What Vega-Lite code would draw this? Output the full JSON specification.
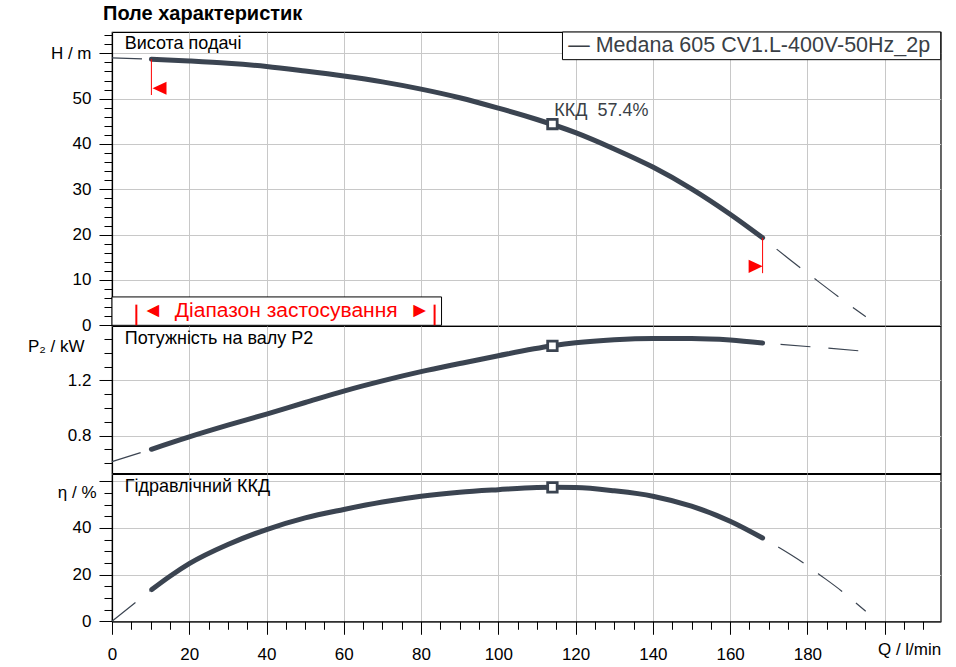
{
  "$schema": "https://vega.github.io/schema/vega-lite/v6.json",
  "padding": {"left": 22, "top": 3, "right": 5, "bottom": 5},
  "spacing": 0,
  "bounds": "flush",
  "title": {"text": "Поле характеристик", "anchor": "start", "fontSize": 20, "fontWeight": "bold", "font": "Liberation Sans", "color": "black", "offset": 2, "dx": 81},
  "datasets": {
    "H": [
      {"Q": 0, "v": 59.0, "seg": "a"}, {"Q": 10.2, "v": 58.7, "seg": "a"},
      {"Q": 10.2, "v": 58.7, "seg": "s"}, {"Q": 20, "v": 58.3, "seg": "s"}, {"Q": 30, "v": 57.8, "seg": "s"},
      {"Q": 40, "v": 57.1, "seg": "s"}, {"Q": 50, "v": 56.1, "seg": "s"}, {"Q": 60, "v": 55.0, "seg": "s"},
      {"Q": 70, "v": 53.7, "seg": "s"}, {"Q": 80, "v": 52.1, "seg": "s"}, {"Q": 90, "v": 50.2, "seg": "s"},
      {"Q": 100, "v": 47.9, "seg": "s"}, {"Q": 110, "v": 45.4, "seg": "s"}, {"Q": 120, "v": 42.5, "seg": "s"},
      {"Q": 130, "v": 38.9, "seg": "s"}, {"Q": 140, "v": 34.9, "seg": "s"}, {"Q": 150, "v": 30.1, "seg": "s"},
      {"Q": 160, "v": 24.5, "seg": "s"}, {"Q": 168.4, "v": 19.3, "seg": "s"},
      {"Q": 168.4, "v": 19.3, "seg": "b"}, {"Q": 175, "v": 14.8, "seg": "b"}, {"Q": 182, "v": 10.2, "seg": "b"},
      {"Q": 188.5, "v": 6.0, "seg": "b"}, {"Q": 195.1, "v": 1.9, "seg": "b"},
      {"Q": 114, "v": 44.4, "seg": "p"}
    ],
    "P": [
      {"Q": 0, "v": 0.61, "seg": "a"}, {"Q": 10.2, "v": 0.70, "seg": "a"},
      {"Q": 10.2, "v": 0.70, "seg": "s"}, {"Q": 20, "v": 0.79, "seg": "s"}, {"Q": 30, "v": 0.875, "seg": "s"},
      {"Q": 40, "v": 0.956, "seg": "s"}, {"Q": 50, "v": 1.04, "seg": "s"}, {"Q": 60, "v": 1.123, "seg": "s"},
      {"Q": 70, "v": 1.197, "seg": "s"}, {"Q": 80, "v": 1.264, "seg": "s"}, {"Q": 90, "v": 1.323, "seg": "s"},
      {"Q": 100, "v": 1.38, "seg": "s"}, {"Q": 114, "v": 1.452, "seg": "s"}, {"Q": 120, "v": 1.474, "seg": "s"},
      {"Q": 130, "v": 1.496, "seg": "s"}, {"Q": 140, "v": 1.505, "seg": "s"}, {"Q": 150, "v": 1.505, "seg": "s"},
      {"Q": 160, "v": 1.494, "seg": "s"}, {"Q": 168.4, "v": 1.472, "seg": "s"},
      {"Q": 168.4, "v": 1.472, "seg": "b"}, {"Q": 180.9, "v": 1.445, "seg": "b"}, {"Q": 193.2, "v": 1.416, "seg": "b"},
      {"Q": 114, "v": 1.452, "seg": "p"}
    ],
    "E": [
      {"Q": 0, "v": 0, "seg": "a"}, {"Q": 10.3, "v": 13.6, "seg": "a"},
      {"Q": 10.3, "v": 13.6, "seg": "s"}, {"Q": 15, "v": 19.3, "seg": "s"}, {"Q": 20, "v": 24.7, "seg": "s"},
      {"Q": 30, "v": 32.9, "seg": "s"}, {"Q": 40, "v": 39.3, "seg": "s"}, {"Q": 50, "v": 44.3, "seg": "s"},
      {"Q": 60, "v": 47.9, "seg": "s"}, {"Q": 70, "v": 51.1, "seg": "s"}, {"Q": 80, "v": 53.6, "seg": "s"},
      {"Q": 90, "v": 55.3, "seg": "s"}, {"Q": 100, "v": 56.4, "seg": "s"}, {"Q": 110, "v": 57.3, "seg": "s"},
      {"Q": 114, "v": 57.4, "seg": "s"}, {"Q": 120, "v": 57.3, "seg": "s"}, {"Q": 130, "v": 55.9, "seg": "s"},
      {"Q": 140, "v": 53.6, "seg": "s"}, {"Q": 150, "v": 49.3, "seg": "s"}, {"Q": 160, "v": 42.9, "seg": "s"},
      {"Q": 168.4, "v": 35.7, "seg": "s"},
      {"Q": 168.4, "v": 35.7, "seg": "b"}, {"Q": 172.4, "v": 31.9, "seg": "b"}, {"Q": 179, "v": 25.0, "seg": "b"},
      {"Q": 182.8, "v": 20.4, "seg": "b"}, {"Q": 188.9, "v": 12.9, "seg": "b"}, {"Q": 192.5, "v": 7.9, "seg": "b"},
      {"Q": 195.1, "v": 4.3, "seg": "b"},
      {"Q": 114, "v": 57.4, "seg": "p"}
    ],
    "boxes": [
      {"Q": 0, "Q2": 85.3, "v": 0, "v2": 6.26},
      {"Q": 116.6, "Q2": 214.5, "v": 58.6, "v2": 64.7}
    ],
    "redRules": [
      {"Q": 10.2, "v": 58.7, "v2": 50.8},
      {"Q": 168.4, "v": 19.3, "v2": 11.5}
    ],
    "redBars": [
      {"Q": 6.3, "v": 0, "v2": 4.56},
      {"Q": 83.5, "v": 0, "v2": 4.56}
    ],
    "triangles": [
      {"Q": 12.3, "v": 52.3, "dir": "l"},
      {"Q": 166.6, "v": 13.0, "dir": "r"}
    ],
    "labelsTop": [{"Q": 3.3, "v": 62.1, "t": "Висота подачі"}],
    "labelsMid": [{"Q": 3.3, "v": 1.503, "t": "Потужність на валу P2"}],
    "labelsBot": [{"Q": 3.3, "v": 57.4, "t": "Гідравлічний ККД"}],
    "bepText": [{"Q": 114.5, "v": 47.3, "t": "ККД\u00a0\u00a057.4%"}],
    "rangeText": [{"Q": 45.1, "v": 3.24, "t": "◄\u00a0\u00a0Діапазон\u00a0застосування\u00a0\u00a0►"}],
    "legendText": [{"Q": 118.1, "v": 61.6, "t": "— Medana 605 CV1.L-400V-50Hz_2p"}]
  },
  "vconcat": [
    {
      "width": 828.7,
      "height": 293.3,
      "encoding": {
        "x": {"field": "Q", "type": "quantitative", "scale": {"domain": [0, 214.5], "nice": false, "zero": false},
          "axis": {"title": null, "values": [0, 20, 40, 60, 80, 100, 120, 140, 160, 180, 200], "labels": false, "ticks": false, "domain": false, "grid": true}},
        "y": {"field": "v", "type": "quantitative", "scale": {"domain": [0, 64.7], "nice": false, "zero": false},
          "axis": {
            "title": null,
            "values": [0, 2, 4, 6, 8, 10, 12, 14, 16, 18, 20, 22, 24, 26, 28, 30, 32, 34, 36, 38, 40, 42, 44, 46, 48, 50, 52, 54, 56, 58, 60, 62, 64],
            "labelExpr": "datum.value == 60 ? 'H /  m' : (datum.value % 10 === 0 ? datum.label : '')",
            "tickSize": {"condition": {"test": "datum.value % 10 === 0", "value": 13}, "value": 8},
            "gridOpacity": {"condition": {"test": "datum.value % 10 === 0", "value": 1}, "value": 0}
          }}
      },
      "layer": [
        {"data": {"name": "boxes"}, "mark": {"type": "rect", "fill": "white", "stroke": "black", "strokeWidth": 1}, "encoding": {"x2": {"field": "Q2"}, "y2": {"field": "v2"}}},
        {"data": {"name": "H"}, "transform": [{"filter": "datum.seg == 'a'"}], "mark": {"type": "line", "color": "#3b4451", "strokeWidth": 1.2, "strokeDash": [30, 18]}},
        {"data": {"name": "H"}, "transform": [{"filter": "datum.seg == 'b'"}], "mark": {"type": "line", "color": "#3b4451", "strokeWidth": 1.2, "strokeDash": [30, 18], "strokeDashOffset": 30, "interpolate": "monotone"}},
        {"data": {"name": "H"}, "transform": [{"filter": "datum.seg == 's'"}], "mark": {"type": "line", "color": "#3b4451", "strokeWidth": 5, "strokeCap": "round", "interpolate": "monotone"}},
        {"data": {"name": "H"}, "transform": [{"filter": "datum.seg == 'p'"}], "mark": {"type": "point", "shape": "square", "size": 90, "filled": true, "fill": "white", "stroke": "#3b4451", "strokeWidth": 2.8, "opacity": 1}},
        {"data": {"name": "redRules"}, "mark": {"type": "rule", "color": "red", "strokeWidth": 1}, "encoding": {"y2": {"field": "v2"}}},
        {"data": {"name": "redBars"}, "mark": {"type": "rule", "color": "red", "strokeWidth": 2}, "encoding": {"y2": {"field": "v2"}}},
        {"data": {"name": "triangles"}, "mark": {"type": "point", "filled": true, "color": "red", "size": 196, "opacity": 1},
          "encoding": {"shape": {"field": "dir", "type": "nominal", "scale": {"domain": ["l", "r"], "range": ["M-1,0L1,-0.93L1,0.93Z", "M1,0L-1,-0.93L-1,0.93Z"]}, "legend": null}}},
        {"data": {"name": "labelsTop"}, "mark": {"type": "text", "align": "left", "baseline": "middle", "fontSize": 18, "color": "black"}, "encoding": {"text": {"field": "t"}}},
        {"data": {"name": "bepText"}, "mark": {"type": "text", "align": "left", "baseline": "middle", "fontSize": 18, "color": "#3a3f46"}, "encoding": {"text": {"field": "t"}}},
        {"data": {"name": "rangeText"}, "mark": {"type": "text", "align": "center", "baseline": "middle", "fontSize": 21, "color": "red"}, "encoding": {"text": {"field": "t"}}},
        {"data": {"name": "legendText"}, "mark": {"type": "text", "align": "left", "baseline": "middle", "fontSize": 21.5, "color": "#3a3f46"}, "encoding": {"text": {"field": "t"}}}
      ]
    },
    {
      "width": 828.7,
      "height": 147.2,
      "encoding": {
        "x": {"field": "Q", "type": "quantitative", "scale": {"domain": [0, 214.5], "nice": false, "zero": false},
          "axis": {"title": null, "values": [0, 20, 40, 60, 80, 100, 120, 140, 160, 180, 200], "labels": false, "ticks": false, "domain": false, "grid": true}},
        "y": {"field": "v", "type": "quantitative", "scale": {"domain": [0.526, 1.596], "nice": false, "zero": false},
          "axis": {
            "title": null,
            "values": [0.6, 0.7, 0.8, 0.9, 1.0, 1.1, 1.2, 1.3, 1.4, 1.5, 1.45],
            "labelExpr": "abs(datum.value - 1.45) < 0.01 ? 'P₂ /  kW' : ((abs(datum.value - 0.8) < 0.01 || abs(datum.value - 1.2) < 0.01) ? datum.label : '')",
            "tickSize": {"condition": {"test": "abs(datum.value - 0.8) < 0.01 || abs(datum.value - 1.2) < 0.01", "value": 13}, "value": 8},
            "tickOpacity": {"condition": {"test": "abs(datum.value - 1.45) < 0.01", "value": 0}, "value": 1},
            "labelPadding": {"condition": {"test": "abs(datum.value - 1.45) < 0.01", "value": 20}, "value": 8},
            "gridOpacity": {"condition": {"test": "abs(datum.value - 0.8) < 0.01 || abs(datum.value - 1.2) < 0.01", "value": 1}, "value": 0}
          }}
      },
      "layer": [
        {"data": {"name": "P"}, "transform": [{"filter": "datum.seg == 'a'"}], "mark": {"type": "line", "color": "#3b4451", "strokeWidth": 1.2, "strokeDash": [30, 18]}},
        {"data": {"name": "P"}, "transform": [{"filter": "datum.seg == 'b'"}], "mark": {"type": "line", "color": "#3b4451", "strokeWidth": 1.2, "strokeDash": [30, 18], "strokeDashOffset": 30, "interpolate": "monotone"}},
        {"data": {"name": "P"}, "transform": [{"filter": "datum.seg == 's'"}], "mark": {"type": "line", "color": "#3b4451", "strokeWidth": 5, "strokeCap": "round", "interpolate": "monotone"}},
        {"data": {"name": "P"}, "transform": [{"filter": "datum.seg == 'p'"}], "mark": {"type": "point", "shape": "square", "size": 90, "filled": true, "fill": "white", "stroke": "#3b4451", "strokeWidth": 2.8, "opacity": 1}},
        {"data": {"name": "labelsMid"}, "mark": {"type": "text", "align": "left", "baseline": "middle", "fontSize": 18, "color": "black"}, "encoding": {"text": {"field": "t"}}}
      ]
    },
    {
      "width": 828.7,
      "height": 147.3,
      "encoding": {
        "x": {"field": "Q", "type": "quantitative", "scale": {"domain": [0, 214.5], "nice": false, "zero": false},
          "axis": {
            "title": null,
            "values": [0, 5, 10, 15, 20, 25, 30, 35, 40, 45, 50, 55, 60, 65, 70, 75, 80, 85, 90, 95, 100, 105, 110, 115, 120, 125, 130, 135, 140, 145, 150, 155, 160, 165, 170, 175, 180, 185, 190, 195, 200, 205, 210, 214.5],
            "labelExpr": "datum.value > 214 ? 'Q / l/min' : ((datum.value % 20 === 0 && datum.value < 190) ? datum.label : '')",
            "labelAlign": {"condition": {"test": "datum.value > 214", "value": "right"}, "value": "center"},
            "tickSize": {"condition": {"test": "datum.value % 20 === 0", "value": 13}, "value": 8},
            "tickOpacity": {"condition": {"test": "datum.value > 214", "value": 0}, "value": 1},
            "gridOpacity": {"condition": {"test": "datum.value % 20 === 0", "value": 1}, "value": 0},
            "labelPadding": 12
          }},
        "y": {"field": "v", "type": "quantitative", "scale": {"domain": [0, 63.1], "nice": false, "zero": false},
          "axis": {
            "title": null,
            "values": [0, 5, 10, 15, 20, 25, 30, 35, 40, 45, 50, 55, 60],
            "labelExpr": "datum.value == 55 ? 'η /  %' : ((datum.value % 20 === 0 && datum.value < 60) ? datum.label : '')",
            "tickSize": {"condition": {"test": "datum.value % 20 === 0", "value": 13}, "value": 8},
            "gridOpacity": {"condition": {"test": "datum.value % 20 === 0", "value": 1}, "value": 0}
          }}
      },
      "layer": [
        {"data": {"name": "E"}, "transform": [{"filter": "datum.seg == 'a'"}], "mark": {"type": "line", "color": "#3b4451", "strokeWidth": 1.2, "strokeDash": [30, 18]}},
        {"data": {"name": "E"}, "transform": [{"filter": "datum.seg == 'b'"}], "mark": {"type": "line", "color": "#3b4451", "strokeWidth": 1.2, "strokeDash": [30, 18], "strokeDashOffset": 30, "interpolate": "monotone"}},
        {"data": {"name": "E"}, "transform": [{"filter": "datum.seg == 's'"}], "mark": {"type": "line", "color": "#3b4451", "strokeWidth": 5, "strokeCap": "round", "interpolate": "monotone"}},
        {"data": {"name": "E"}, "transform": [{"filter": "datum.seg == 'p'"}], "mark": {"type": "point", "shape": "square", "size": 90, "filled": true, "fill": "white", "stroke": "#3b4451", "strokeWidth": 2.8, "opacity": 1}},
        {"data": {"name": "labelsBot"}, "mark": {"type": "text", "align": "left", "baseline": "middle", "fontSize": 18, "color": "black"}, "encoding": {"text": {"field": "t"}}}
      ]
    }
  ],
  "config": {
    "font": "Liberation Sans",
    "view": {"stroke": "black", "strokeWidth": 1.2},
    "concat": {"spacing": 0},
    "axis": {
      "labelFont": "Liberation Sans",
      "labelFontSize": 17,
      "labelColor": "black",
      "tickColor": "black",
      "tickWidth": 1,
      "domainColor": "black",
      "domainWidth": 1.2,
      "gridColor": "#c8c8c8",
      "gridWidth": 1,
      "labelPadding": 8,
      "labelOverlap": false,
      "labelFlush": false,
      "labelBound": false
    }
  }
}
